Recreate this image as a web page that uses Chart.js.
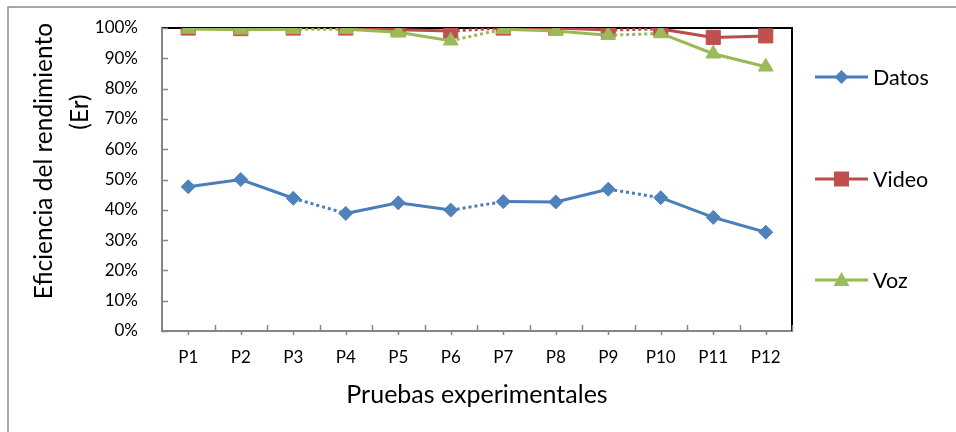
<!DOCTYPE html>
<html>
<head>
<meta charset="utf-8">
<script src="https://cdn.jsdelivr.net/npm/chart.js@4/dist/chart.umd.min.js"></script>
<style>
  body { margin: 0; background: #fff; }
  canvas { display: block; }
</style>
</head>
<body>
<canvas id="chart" width="956" height="432"></canvas>
<script>
// Pruebas y series
const categorias = ["P1", "P2", "P3", "P4", "P5", "P6", "P7", "P8", "P9", "P10", "P11", "P12"];
const datos = [47.6, 50.0, 43.8, 38.8, 42.3, 39.9, 42.7, 42.6, 46.8, 44.0, 37.5, 32.6];
const video = [100, 99.8, 100, 100, 99.4, 99.0, 100, 100, 99.3, 99.7, 96.9, 97.4];
const voz = [99.7, 99.4, 99.6, 99.6, 98.6, 95.8, 99.6, 99.0, 97.6, 98.2, 91.5, 87.2];
const yTicks = [0, 10, 20, 30, 40, 50, 60, 70, 80, 90, 100];
// tramos punteados (índice del punto inicial)
const tramosPunteados = [2, 5, 8];

const FONT = "Lato, 'Open Sans', sans-serif";
const GRIS = "#868686";

const series = [
    { label: "Datos", data: datos, line: "#4A7EBB", fill: "#4F81BD", style: "rectRot", radius: 7, order: 2 },
    { label: "Video", data: video, line: "#BE4B48", fill: "#C0504D", style: "rect", radius: 10, order: 1 },
    { label: "Voz", data: voz, line: "#98B954", fill: "#9BBB59", style: "triangle", radius: 8.5, order: 0 },
];

// Marco exterior, bordes del área y marcas de eje
const marcoPlugin = {
    id: "marco",
    beforeDraw(chart) {
        const ctx = chart.ctx;
        ctx.save();
        ctx.strokeStyle = "#8c8c8c";
        ctx.lineWidth = 1.5;
        ctx.beginPath();
        ctx.moveTo(8, 432);
        ctx.lineTo(8, 7);
        ctx.lineTo(956, 7);
        ctx.stroke();
        ctx.restore();
    },
    beforeDatasetsDraw(chart) {
        const { ctx, chartArea: a, scales } = chart;
        ctx.save();
        // borde superior y derecho negro
        ctx.strokeStyle = "#000";
        ctx.lineWidth = 2;
        ctx.beginPath();
        ctx.moveTo(a.left, a.top);
        ctx.lineTo(a.right, a.top);
        ctx.lineTo(a.right, a.bottom);
        ctx.stroke();
        // marcas del eje y hacia dentro
        ctx.strokeStyle = GRIS;
        ctx.lineWidth = 1.5;
        ctx.beginPath();
        yTicks.forEach(v => {
            const y = Math.round(scales.y.getPixelForValue(v)) + 0.5;
            ctx.moveTo(a.left, y);
            ctx.lineTo(a.left + 6, y);
        });
        // marcas del eje x: centros hacia fuera, límites hacia dentro
        const w = (a.right - a.left) / categorias.length;
        categorias.forEach((c, i) => {
            const xc = Math.round(scales.x.getPixelForValue(i)) + 0.5;
            ctx.moveTo(xc, a.bottom);
            ctx.lineTo(xc, a.bottom + 4);
            const xb = Math.round(a.left + (i + 1) * w) + 0.5;
            ctx.moveTo(xb, a.bottom);
            ctx.lineTo(xb, a.bottom - 6);
        });
        ctx.stroke();
        ctx.restore();
    },
    afterDraw(chart) {
        const ctx = chart.ctx;
        const a = chart.chartArea;
        ctx.save();
        ctx.fillStyle = "#000";
        // título eje x
        ctx.font = "25px " + FONT;
        ctx.textAlign = "center";
        ctx.textBaseline = "middle";
        ctx.fillText("Pruebas experimentales", (a.left + a.right) / 2, 395);
        // título eje y (dos líneas)
        ctx.font = "24.5px " + FONT;
        ctx.save();
        ctx.translate(44, 161);
        ctx.rotate(-Math.PI / 2);
        ctx.fillText("Eficiencia del rendimiento", 0, 0);
        ctx.restore();
        ctx.save();
        ctx.translate(80, 112);
        ctx.rotate(-Math.PI / 2);
        ctx.fillText("(Er)", 0, 0);
        ctx.restore();
        // leyenda
        const ys = [77, 179, 280];
        series.forEach((s, i) => {
            const y = ys[i];
            ctx.strokeStyle = s.line;
            ctx.lineWidth = 3;
            ctx.beginPath();
            ctx.moveTo(815, y);
            ctx.lineTo(868, y);
            ctx.stroke();
            ctx.fillStyle = s.fill;
            ctx.beginPath();
            const x = 841.5;
            if (s.style === "rectRot") {
                ctx.moveTo(x, y - 7); ctx.lineTo(x + 7, y); ctx.lineTo(x, y + 7); ctx.lineTo(x - 7, y);
            } else if (s.style === "rect") {
                ctx.rect(x - 7.5, y - 7.5, 15, 15);
            } else {
                ctx.moveTo(x, y - 8); ctx.lineTo(x + 8, y + 6); ctx.lineTo(x - 8, y + 6);
            }
            ctx.closePath();
            ctx.fill();
            ctx.fillStyle = "#000";
            ctx.font = "21.5px " + FONT;
            ctx.textAlign = "left";
            ctx.fillText(s.label, 873, y + 1);
        });
        ctx.restore();
    }
};

new Chart(document.getElementById("chart"), {
    type: "line",
    plugins: [marcoPlugin],
    data: {
        labels: categorias,
        datasets: series.map(s => ({
            label: s.label,
            data: s.data,
            order: s.order,
            borderColor: s.line,
            borderWidth: 3,
            backgroundColor: s.fill,
            pointBackgroundColor: s.fill,
            pointBorderColor: s.fill,
            pointBorderWidth: 1,
            pointStyle: s.style,
            pointRadius: s.radius,
            pointHoverRadius: s.radius,
            tension: 0,
            segment: {
                borderDash: ctx => tramosPunteados.includes(ctx.p0DataIndex) ? [3, 3] : undefined,
            },
        })),
    },
    options: {
        responsive: false,
        animation: false,
        layout: { padding: { top: 28, right: 164, bottom: 0, left: 0 } },
        plugins: {
            legend: { display: false },
            tooltip: { enabled: false },
        },
        scales: {
            x: {
                offset: true,
                grid: { display: false, drawTicks: false },
                border: { display: true, color: GRIS, width: 2 },
                ticks: { color: "#000", font: { family: FONT, size: 17 }, padding: 16, maxRotation: 0 },
                afterFit(scale) {
                    scale.height = 101;
                    scale.paddingLeft = 0;
                    scale.paddingRight = 0;
                },
            },
            y: {
                min: 0,
                max: 100,
                grid: { display: false, drawTicks: false },
                border: { display: true, color: GRIS, width: 2 },
                ticks: {
                    stepSize: 10,
                    color: "#000",
                    font: { family: FONT, size: 17 },
                    padding: 24,
                    callback: v => v + "%",
                },
                afterFit(scale) {
                    scale.width = 162;
                    scale.paddingTop = 0;
                    scale.paddingBottom = 0;
                },
            },
        },
    },
});
</script>
</body>
</html>
